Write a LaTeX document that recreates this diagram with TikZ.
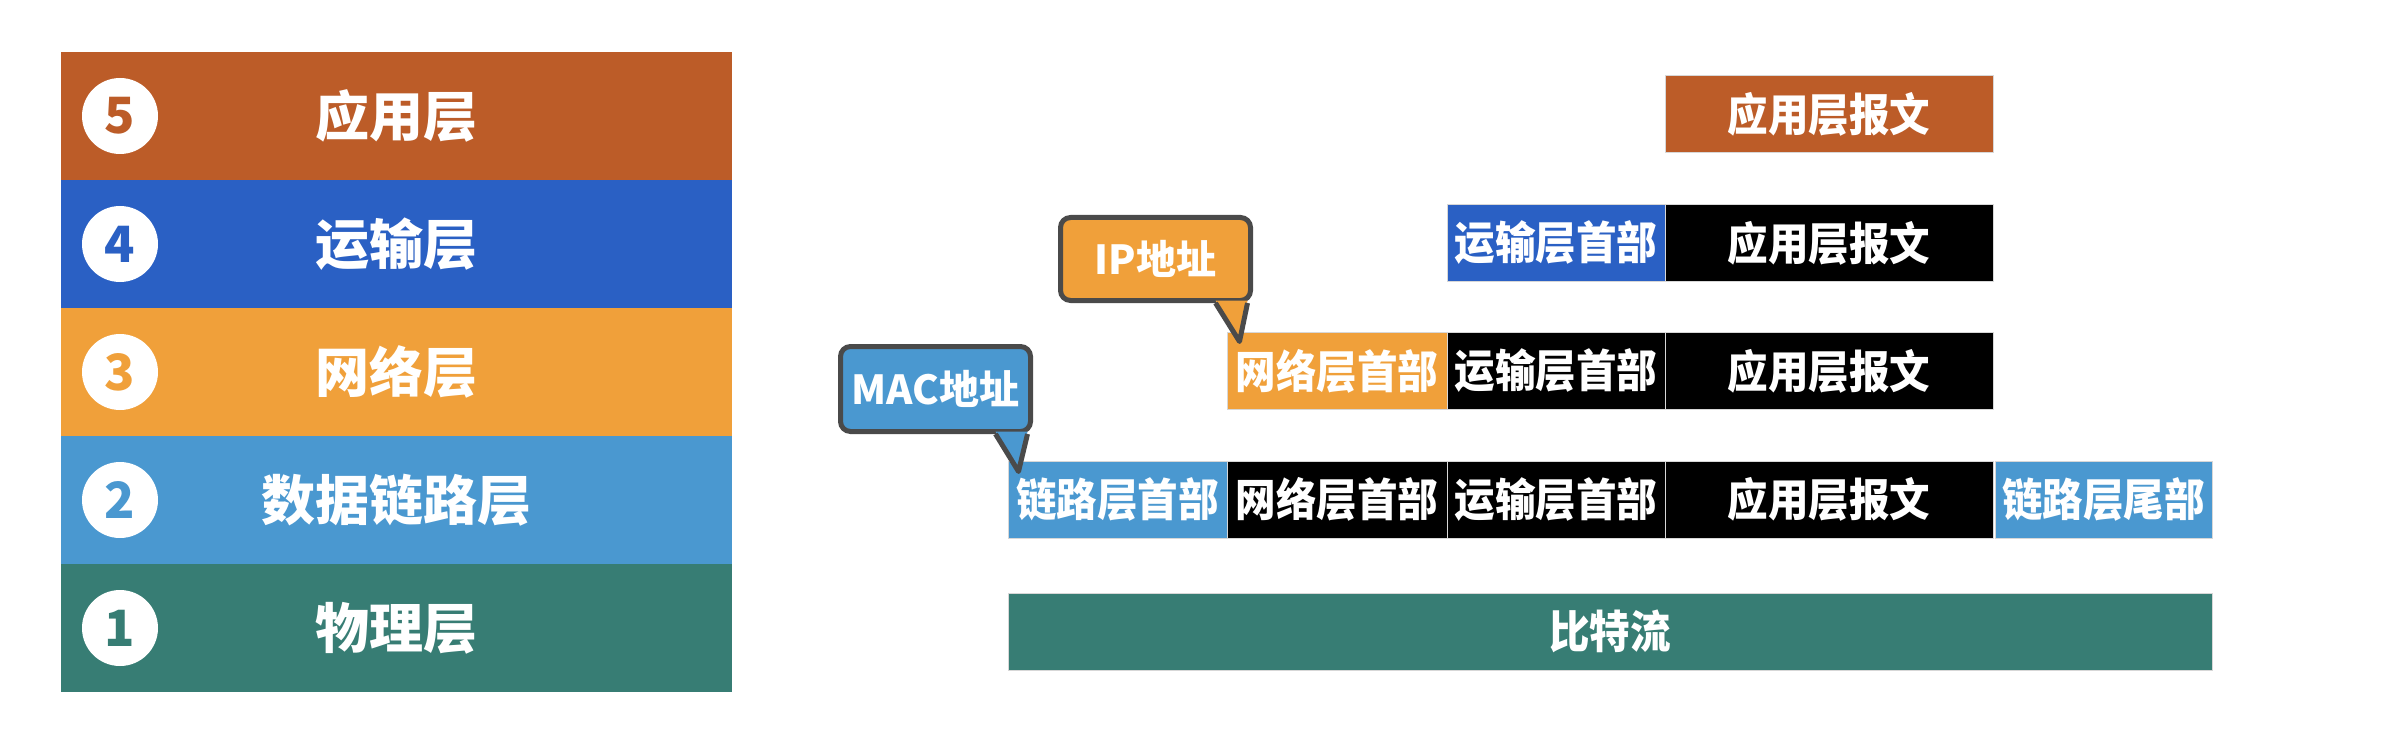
\documentclass[tikz,border=0pt]{standalone}
\usepackage{fontspec}
\usetikzlibrary{calc}
\newfontfamily\cjk{Noto Sans CJK SC}
\newfontfamily\cjkn{Noto Sans CJK SC}[FakeStretch=0.9]
\definecolor{apporange}{RGB}{188,92,40}
\definecolor{transblue}{RGB}{42,96,196}
\definecolor{netorange}{RGB}{240,160,58}
\definecolor{linkblue}{RGB}{74,152,208}
\definecolor{phyteal}{RGB}{55,125,116}
\definecolor{calloutgray}{RGB}{74,74,74}
\definecolor{sepgray}{RGB}{215,215,215}
\tikzset{
  layer/.style={rectangle, minimum width=671, minimum height=128, inner sep=0, text=white,
    font=\cjk\bfseries\fontsize{54}{60}\selectfont},
  num/.style={circle, fill=white, minimum size=76, inner sep=0,
    font=\cjk\bfseries\fontsize{50}{56}\selectfont},
  pkt/.style={rectangle, minimum height=77, inner sep=0, text=white, draw=sepgray, line width=1,
    font=\cjkn\bfseries\fontsize{45}{50}\selectfont},
  callout/.style={rectangle, rounded corners=10, draw=calloutgray, line width=5, text=white,
    font=\cjk\bfseries\fontsize{40}{46}\selectfont, minimum width=190, inner sep=0},
  tail/.style={draw=calloutgray, line width=5, line join=round}
}
\begin{document}
\begin{tikzpicture}[x=1pt,y=-1pt]
\useasboundingbox (0,0) rectangle (2388,730);
% layer stack
\node[layer, fill=apporange] (L5) at (396.5,116) {应用层};
\node[layer, fill=transblue] (L4) at (396.5,244) {运输层};
\node[layer, fill=netorange] (L3) at (396.5,372) {网络层};
\node[layer, fill=linkblue] (L2) at (396.5,500) {数据链路层};
\node[layer, fill=phyteal] (L1) at (396.5,628) {物理层};
\node[num, text=apporange] (N5) at (120,116) {5};
\node[num, text=transblue] (N4) at (120,244) {4};
\node[num, text=netorange] (N3) at (120,372) {3};
\node[num, text=linkblue] (N2) at (120,500) {2};
\node[num, text=phyteal] (N1) at (120,628) {1};
% packets
\node[pkt, fill=apporange, minimum width=328] (a1) at (1829,114.5) {应用层报文};
\node[pkt, fill=transblue, minimum width=218] (t2) at (1556,243) {运输层首部};
\node[pkt, fill=black, minimum width=328] (a2) at (1829,243) {应用层报文};
\node[pkt, fill=netorange, minimum width=220] (n3) at (1337,371) {网络层首部};
\node[pkt, fill=black, minimum width=218] (t3) at (1556,371) {运输层首部};
\node[pkt, fill=black, minimum width=328] (a3) at (1829,371) {应用层报文};
\node[pkt, fill=linkblue, minimum width=219] (l4) at (1117.5,499.5) {链路层首部};
\node[pkt, fill=black, minimum width=220] (n4) at (1337,499.5) {网络层首部};
\node[pkt, fill=black, minimum width=218] (t4) at (1556,499.5) {运输层首部};
\node[pkt, fill=black, minimum width=328] (a4) at (1829,499.5) {应用层报文};
\node[pkt, fill=linkblue, minimum width=217] (tr4) at (2103.5,499.5) {链路层尾部};
\node[pkt, fill=phyteal, minimum width=1204] (bits) at (1610,631.5) {比特流};
% IP callout
\node[callout, fill=netorange, minimum height=83] (ip) at (1155.5,259) {IP地址};
\coordinate (iptip) at ($(n3.north west)+(13,9.5)$);
\coordinate (ipa) at ($(ip.south east)+(-37.5,0)$);
\coordinate (ipb) at ($(ip.south east)+(-5.5,0)$);
\fill[netorange] ($(ipa)+(0,-2.5)$) -- (iptip) -- ($(ipb)+(0,-2.5)$) -- cycle;
\draw[tail] (ipa) -- (iptip) -- (ipb);
% MAC callout
\node[callout, fill=linkblue, minimum height=85] (mac) at (935.5,389) {MAC地址};
\coordinate (mactip) at ($(l4.north west)+(11,11)$);
\coordinate (maca) at ($(mac.south east)+(-37.5,0)$);
\coordinate (macb) at ($(mac.south east)+(-5.5,0)$);
\fill[linkblue] ($(maca)+(0,-2.5)$) -- (mactip) -- ($(macb)+(0,-2.5)$) -- cycle;
\draw[tail] (maca) -- (mactip) -- (macb);
\end{tikzpicture}
\end{document}
